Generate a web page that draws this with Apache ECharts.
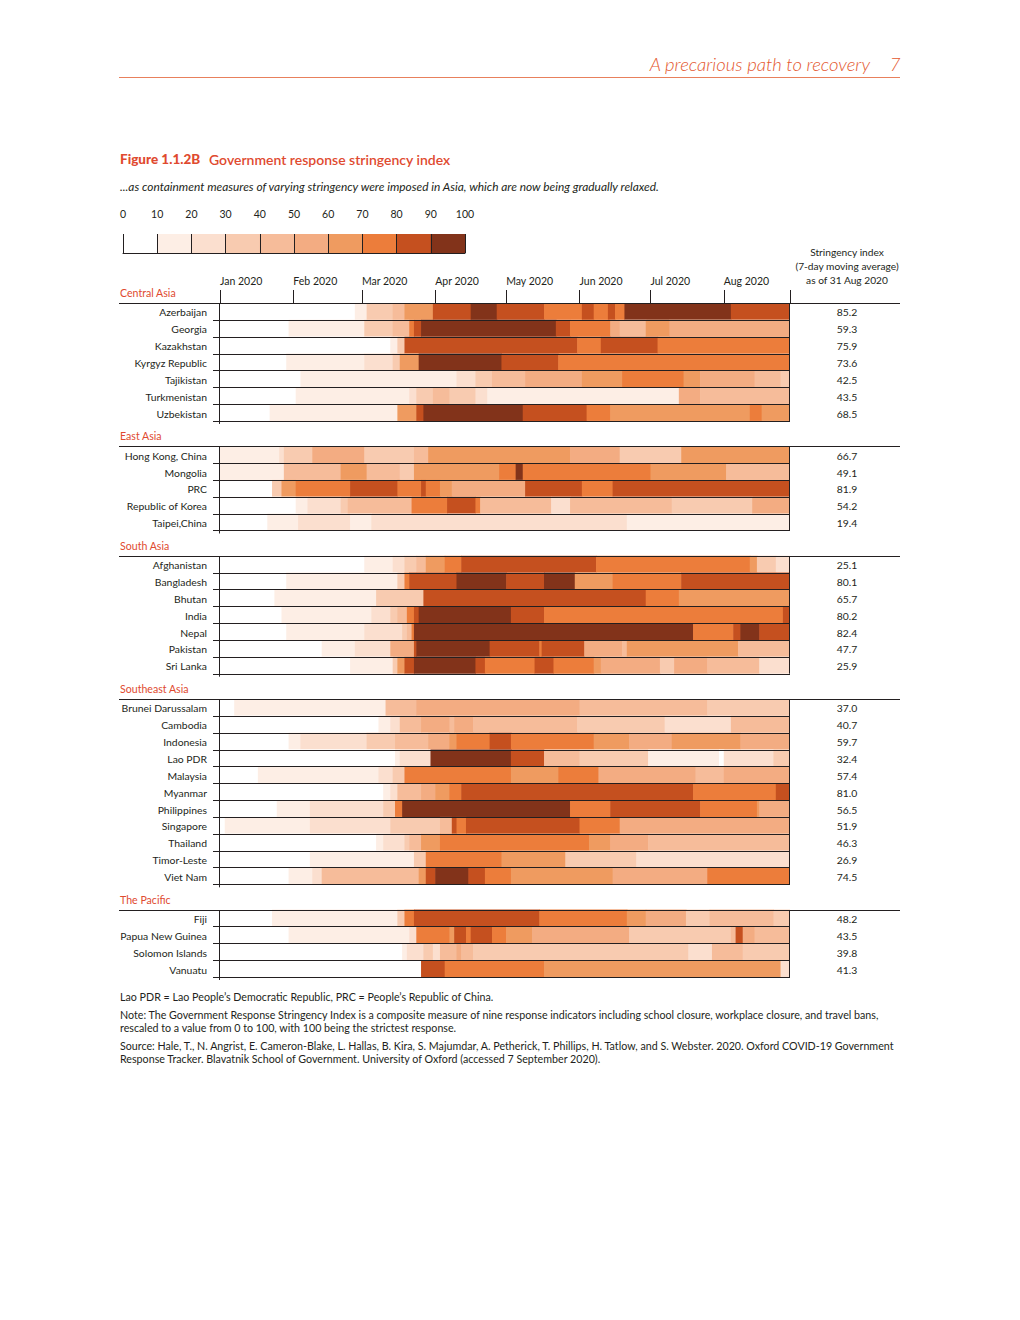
<!DOCTYPE html>
<html><head><meta charset="utf-8">
<script src="https://cdn.jsdelivr.net/npm/echarts@6/dist/echarts.min.js"></script>
<style>html,body{margin:0;padding:0;background:#fff}#c{width:1020px;height:1320px}</style>
</head><body><div id="c"></div>
<script>
// ---------------- DATA ----------------
const groupNames = ['Central Asia', 'East Asia', 'South Asia', 'Southeast Asia', 'The Pacific'];
const centralAsia = ['Azerbaijan', 'Georgia', 'Kazakhstan', 'Kyrgyz Republic', 'Tajikistan', 'Turkmenistan', 'Uzbekistan'];
const eastAsia = ['Hong Kong, China', 'Mongolia', 'PRC', 'Republic of Korea', 'Taipei,China'];
const southAsia = ['Afghanistan', 'Bangladesh', 'Bhutan', 'India', 'Nepal', 'Pakistan', 'Sri Lanka'];
const southeastAsia = ['Brunei Darussalam', 'Cambodia', 'Indonesia', 'Lao PDR', 'Malaysia', 'Myanmar', 'Philippines', 'Singapore', 'Thailand', 'Timor-Leste', 'Viet Nam'];
const pacific = ['Fiji', 'Papua New Guinea', 'Solomon Islands', 'Vanuatu'];

// Stringency index (7-day moving average) as of 31 Aug 2020
const latestCentralAsia = [85.2, 59.3, 75.9, 73.6, 42.5, 43.5, 68.5];
const latestEastAsia = [66.7, 49.1, 81.9, 54.2, 19.4];
const latestSouthAsia = [25.1, 80.1, 65.7, 80.2, 82.4, 47.7, 25.9];
const latestSoutheastAsia = [37.0, 40.7, 59.7, 32.4, 57.4, 81.0, 56.5, 51.9, 46.3, 26.9, 74.5];
const latestPacific = [48.2, 43.5, 39.8, 41.3];

// Change points: [days since 1 Jan 2020, stringency band (0 = 0-10 ... 9 = 90-100)]
const azerbaijan = [[0,0],[57,1],[62,3],[73,4],[78,6],[90,8],[106,9],[117,8],[137,7],[153,8],[158,7],[164,8],[167,7],[171,9],[216,8]];
const georgia = [[0,0],[29,1],[61,3],[73,4],[80,7],[82,8],[85,9],[142,8],[148,7],[165,5],[169,4],[180,6],[190,5]];
const kazakhstan = [[0,0],[72,1],[75,3],[78,8],[151,7],[161,8],[185,7]];
const kyrgyz = [[0,0],[28,1],[61,2],[73,3],[76,6],[84,9],[119,8],[143,7]];
const tajikistan = [[0,0],[34,1],[100,2],[108,3],[115,4],[129,5],[153,6],[170,7],[196,6],[203,5],[226,4],[237,3]];
const turkmenistan = [[0,0],[32,1],[80,2],[83,3],[90,4],[97,3],[108,2],[113,1],[194,5],[203,4]];
const uzbekistan = [[0,0],[21,1],[75,6],[83,8],[86,9],[128,8],[155,7],[165,6],[224,7],[229,6]];

const hongKong = [[0,1],[25,2],[27,3],[39,5],[61,3],[82,4],[88,6],[148,5],[169,3],[195,6]];
const mongolia = [[0,1],[27,4],[51,6],[62,4],[76,3],[82,6],[118,7],[125,9],[128,7],[182,6],[214,4]];
const prc = [[0,0],[22,3],[26,6],[32,7],[55,8],[75,7],[85,8],[87,7],[93,6],[98,5],[129,8],[153,7],[166,8]];
const korea = [[0,0],[32,1],[37,2],[51,3],[54,4],[81,7],[96,8],[108,7],[110,4],[140,2],[148,4],[191,3],[225,5]];
const taipei = [[0,0],[20,1],[33,2],[55,1],[64,2],[172,1]];

const afghanistan = [[0,0],[61,1],[73,2],[78,3],[83,4],[87,6],[95,7],[102,8],[159,7],[224,6],[227,3],[235,2]];
const bangladesh = [[0,0],[28,1],[75,3],[78,7],[80,8],[100,9],[121,8],[137,9],[150,6],[166,7],[195,8]];
const bhutan = [[0,0],[23,1],[66,3],[86,8],[180,7],[194,6]];
const india = [[0,0],[26,1],[64,2],[72,3],[75,4],[79,7],[82,8],[84,9],[123,8],[137,7],[238,8]];
const nepal = [[0,0],[28,1],[61,2],[77,3],[79,4],[81,7],[82,9],[200,7],[217,8],[220,9],[228,8]];
const pakistan = [[0,0],[43,1],[57,2],[72,5],[82,8],[83,9],[114,8],[135,7],[136,8],[154,5],[170,4],[172,6],[219,4]];
const sriLanka = [[0,0],[55,1],[73,3],[75,6],[78,8],[82,9],[108,8],[112,7],[133,8],[141,7],[158,6],[161,5],[186,3],[192,5],[206,4],[228,2]];

const brunei = [[0,0],[6,1],[70,4],[83,5],[152,4],[206,3]];
const cambodia = [[0,0],[67,1],[72,2],[76,4],[85,5],[97,4],[99,5],[107,4],[151,3],[188,2],[216,4]];
const indonesia = [[0,0],[29,1],[34,2],[62,3],[74,4],[88,5],[97,6],[100,7],[114,8],[123,7],[158,6],[173,5],[191,6],[220,5]];
const laoPdr = [[0,0],[74,1],[76,2],[89,9],[123,8],[137,4],[152,3],[181,1],[211,0],[213,2],[234,3]];
const malaysia = [[0,0],[16,1],[67,2],[73,3],[78,7],[123,6],[143,7],[160,5],[201,4],[213,5]];
const myanmar = [[0,0],[69,1],[72,2],[75,4],[85,5],[91,6],[97,7],[102,8],[200,7],[235,8]];
const philippines = [[0,0],[24,1],[38,2],[69,3],[74,7],[77,9],[148,7],[165,8],[203,7],[227,6],[228,5]];
const singapore = [[0,0],[2,1],[38,2],[72,3],[93,4],[98,8],[100,7],[104,8],[152,7],[169,5]];
const thailand = [[0,0],[66,1],[69,2],[78,3],[80,4],[85,6],[93,7],[156,6],[165,5],[181,4]];
const timorLeste = [[0,0],[38,1],[82,3],[87,7],[119,6],[146,3],[176,2]];
const vietNam = [[0,0],[29,1],[39,2],[43,4],[84,6],[87,8],[91,9],[105,8],[112,7],[123,6],[166,5],[206,7]];

const fiji = [[0,0],[22,1],[75,3],[78,7],[82,8],[135,7],[172,6],[180,5],[197,3],[207,4],[234,3]];
const papuaNewGuinea = [[0,0],[29,1],[80,2],[83,7],[97,6],[99,8],[104,7],[106,8],[115,7],[121,6],[132,5],[173,3],[216,4],[218,8],[221,5],[226,4]];
const solomonIslands = [[0,0],[77,1],[79,2],[86,3],[90,2],[93,4],[100,5],[102,4],[107,3],[198,2],[208,4],[221,3]];
const vanuatu = [[0,0],[85,8],[95,7],[137,6],[237,2]];

const monthLabels = ['Jan 2020', 'Feb 2020', 'Mar 2020', 'Apr 2020', 'May 2020', 'Jun 2020', 'Jul 2020', 'Aug 2020'];
const legendTicks = [0, 10, 20, 30, 40, 50, 60, 70, 80, 90, 100];

// ---------------- BUILD ----------------
const bandColors = ['#ffffff', '#fdeee5', '#fbdfcf', '#f8cbb0', '#f6bc9a', '#f3ac82', '#ef9b60', '#ec7d3b', '#c5501f', '#82331a'];
const economyBands = {
  'Azerbaijan': azerbaijan, 'Georgia': georgia, 'Kazakhstan': kazakhstan, 'Kyrgyz Republic': kyrgyz,
  'Tajikistan': tajikistan, 'Turkmenistan': turkmenistan, 'Uzbekistan': uzbekistan,
  'Hong Kong, China': hongKong, 'Mongolia': mongolia, 'PRC': prc, 'Republic of Korea': korea, 'Taipei,China': taipei,
  'Afghanistan': afghanistan, 'Bangladesh': bangladesh, 'Bhutan': bhutan, 'India': india, 'Nepal': nepal,
  'Pakistan': pakistan, 'Sri Lanka': sriLanka,
  'Brunei Darussalam': brunei, 'Cambodia': cambodia, 'Indonesia': indonesia, 'Lao PDR': laoPdr, 'Malaysia': malaysia,
  'Myanmar': myanmar, 'Philippines': philippines, 'Singapore': singapore, 'Thailand': thailand,
  'Timor-Leste': timorLeste, 'Viet Nam': vietNam,
  'Fiji': fiji, 'Papua New Guinea': papuaNewGuinea, 'Solomon Islands': solomonIslands, 'Vanuatu': vanuatu
};
const groupRows = [centralAsia, eastAsia, southAsia, southeastAsia, pacific];
const groupLatest = [latestCentralAsia, latestEastAsia, latestSouthAsia, latestSoutheastAsia, latestPacific];

// x axis in days since 1 Jan 2020
const DAY = 86400000;
const jan1 = Date.UTC(2020, 0, 1);
const dayOf = (m, d) => Math.round((Date.UTC(2020, m, d) - jan1) / DAY);
const axisStart = 0;
const axisEnd = dayOf(7, 29);        // right edge of the drawing
const dataEnd = dayOf(8, 1);         // end of 31 Aug 2020
const monthStarts = monthLabels.map((_, i) => dayOf(i, 1));

const GAP = 1.5;
let pos = 0;
const segData = [], rowData = [], rowNames = [], rowLatest = [], groupData = [];
groupRows.forEach((rows, gi) => {
  if (gi > 0) pos += GAP;
  const top = pos;
  rows.forEach((name, ri) => {
    const pts = economyBands[name];
    pts.forEach((p, k) => {
      const s = p[0];
      const e = k + 1 < pts.length ? pts[k + 1][0] : dataEnd;
      segData.push([s, e, pos, pos + 1, p[1]]);
    });
    rowData.push([axisStart, axisEnd, pos, pos + 1]);
    rowNames.push(name);
    rowLatest.push(groupLatest[gi][ri]);
    pos += 1;
  });
  groupData.push([axisStart, axisEnd, top, pos]);
});
const totalUnits = pos;

const legendData = legendTicks.slice(0, -1).map((v, i) => [v, legendTicks[i + 1], 0, 1, i]);

// ---------------- RENDER ----------------
const FONT = 'Lato, "Open Sans", sans-serif';
const INK = '#231f20';
const RED = '#e04a2f';
const crisp = v => Math.round(v) + 0.5;

function renderSeg(params, api) {
  const a = api.coord([api.value(0), api.value(2)]);
  const b = api.coord([api.value(1), api.value(3)]);
  const cs = params.coordSys;
  const x0 = Math.max(a[0], cs.x);
  const x1 = Math.min(b[0] + 0.6, cs.x + cs.width);
  if (x1 <= x0) return null;
  return { type: 'rect', shape: { x: x0, y: a[1], width: x1 - x0, height: b[1] - a[1] },
    style: { fill: bandColors[api.value(4)] } };
}

function renderRow(params, api) {
  const i = params.dataIndex;
  const a = api.coord([api.value(0), api.value(2)]);
  const b = api.coord([api.value(1), api.value(3)]);
  const ym = (a[1] + b[1]) / 2;
  const yb = crisp(b[1]);
  return { type: 'group', children: [
    { type: 'line', shape: { x1: a[0] - 7, y1: yb, x2: b[0], y2: yb }, style: { stroke: INK, lineWidth: 1 } },
    { type: 'text', x: a[0] - 13, y: ym + 1, style: { text: rowNames[i], align: 'right', verticalAlign: 'middle', font: '10.4px ' + FONT, fill: INK } },
    { type: 'text', x: b[0] + 57, y: ym + 1, style: { text: rowLatest[i].toFixed(1), align: 'center', verticalAlign: 'middle', font: '10.4px ' + FONT, fill: INK } }
  ] };
}

function renderGroup(params, api) {
  const i = params.dataIndex;
  const a = api.coord([api.value(0), api.value(2)]);
  const b = api.coord([api.value(1), api.value(3)]);
  const yt = crisp(a[1]);
  const xl = crisp(a[0]) - 1, xr = crisp(b[0]) - 1;
  return { type: 'group', children: [
    { type: 'line', shape: { x1: a[0] - 101, y1: yt, x2: b[0] + 110, y2: yt }, style: { stroke: INK, lineWidth: 1 } },
    { type: 'line', shape: { x1: xl, y1: yt, x2: xl, y2: b[1] + 3 }, style: { stroke: INK, lineWidth: 1 } },
    { type: 'line', shape: { x1: xr, y1: yt, x2: xr, y2: b[1] }, style: { stroke: INK, lineWidth: 1 } },
    { type: 'text', x: a[0] - 100, y: a[1] - 10, style: { text: groupNames[i], align: 'left', verticalAlign: 'middle', font: '10.6px ' + FONT, fill: RED } }
  ] };
}

function renderLegend(params, api) {
  const a = api.coord([api.value(0), api.value(3)]);
  const b = api.coord([api.value(1), api.value(2)]);
  return { type: 'rect', shape: { x: a[0], y: a[1], width: b[0] - a[0] + 0.5, height: b[1] - a[1] },
    style: { fill: bandColors[api.value(4)] } };
}

const chart = echarts.init(document.getElementById('c'), null, { renderer: 'svg' });

const txt = (x, y, text, font, fill, align) => ({ type: 'text', x, y,
  style: { text, font, fill, align: align || 'left', verticalAlign: 'middle' } });

const NOTE = '10.7px ' + FONT;

chart.setOption({
  animation: false,
  backgroundColor: '#ffffff',
  grid: [
    { left: 220, top: 303, width: 570, height: 674 },
    { left: 123, top: 234, width: 342, height: 19 }
  ],
  xAxis: [
    { type: 'value', gridIndex: 0, position: 'top', min: axisStart, max: axisEnd,
      axisLine: { show: false },
      axisTick: { show: true, customValues: monthStarts.concat([axisEnd]), length: 13, lineStyle: { color: INK, width: 1 } },
      axisLabel: { show: true, customValues: monthStarts, align: 'left', margin: 17, fontSize: 10.5, fontFamily: FONT, color: INK,
        formatter: v => monthLabels[monthStarts.indexOf(Math.round(v))] || '' },
      splitLine: { show: false } },
    { type: 'value', gridIndex: 1, position: 'top', min: 0, max: 100, interval: 10, z: 5,
      axisLine: { show: false },
      axisTick: { show: true, length: 9, lineStyle: { color: INK, width: 1 } },
      axisLabel: { margin: 15, fontSize: 10.5, fontFamily: FONT, color: INK },
      splitLine: { show: true, lineStyle: { color: INK, width: 1 } } },
    { type: 'value', gridIndex: 1, position: 'bottom', min: 0, max: 100, z: 5,
      axisLine: { show: true, lineStyle: { color: INK, width: 1 } },
      axisTick: { show: false }, axisLabel: { show: false }, splitLine: { show: false } }
  ],
  yAxis: [
    { type: 'value', gridIndex: 0, min: 0, max: totalUnits, inverse: true, show: false },
    { type: 'value', gridIndex: 1, min: 0, max: 1, show: false }
  ],
  series: [
    { type: 'custom', xAxisIndex: 0, yAxisIndex: 0, renderItem: renderSeg, data: segData, encode: { x: [0, 1], y: [2, 3] }, z: 2, silent: true },
    { type: 'custom', xAxisIndex: 0, yAxisIndex: 0, renderItem: renderRow, data: rowData, encode: { x: [0, 1], y: [2, 3] }, z: 3, silent: true },
    { type: 'custom', xAxisIndex: 0, yAxisIndex: 0, renderItem: renderGroup, data: groupData, encode: { x: [0, 1], y: [2, 3] }, z: 4, silent: true },
    { type: 'custom', xAxisIndex: 1, yAxisIndex: 1, renderItem: renderLegend, data: legendData, encode: { x: [0, 1], y: [2, 3] }, z: 1, silent: true }
  ],
  graphic: [
    txt(870, 64, 'A precarious path to recovery', 'italic 300 18.5px ' + FONT, '#e4572e', 'right'),
    txt(895, 64, '7', 'italic 300 18.5px ' + FONT, '#e4572e', 'center'),
    { type: 'line', shape: { x1: 119, y1: 77.5, x2: 900, y2: 77.5 }, style: { stroke: '#e8805c', lineWidth: 1 } },
    txt(120, 159, 'Figure 1.1.2B', '900 13.5px ' + FONT, RED),
    txt(209, 159, 'Government response stringency index', '600 14px ' + FONT, RED),
    txt(120, 186, '...as containment measures of varying stringency were imposed in Asia, which are now being gradually relaxed.', 'italic 11.9px ' + FONT, INK),
    txt(847, 252, 'Stringency index', '10.2px ' + FONT, INK, 'center'),
    txt(847, 266, '(7-day moving average)', '10.2px ' + FONT, INK, 'center'),
    txt(847, 280, 'as of 31 Aug 2020', '10.2px ' + FONT, INK, 'center'),
    txt(120, 996, 'Lao PDR = Lao People\u2019s Democratic Republic, PRC = People\u2019s Republic of China.', NOTE, INK),
    txt(120, 1014, 'Note: The Government Response Stringency Index is a composite measure of nine response indicators including school closure, workplace closure, and travel bans,', NOTE, INK),
    txt(120, 1027, 'rescaled to a value from 0 to 100, with 100 being the strictest response.', NOTE, INK),
    txt(120, 1045, 'Source: Hale, T., N. Angrist, E. Cameron-Blake, L. Hallas, B. Kira, S. Majumdar, A. Petherick, T. Phillips, H. Tatlow, and S. Webster. 2020. Oxford COVID-19 Government', NOTE, INK),
    txt(120, 1058, 'Response Tracker. Blavatnik School of Government. University of Oxford (accessed 7 September 2020).', NOTE, INK)
  ]
});
</script>
</body></html>
